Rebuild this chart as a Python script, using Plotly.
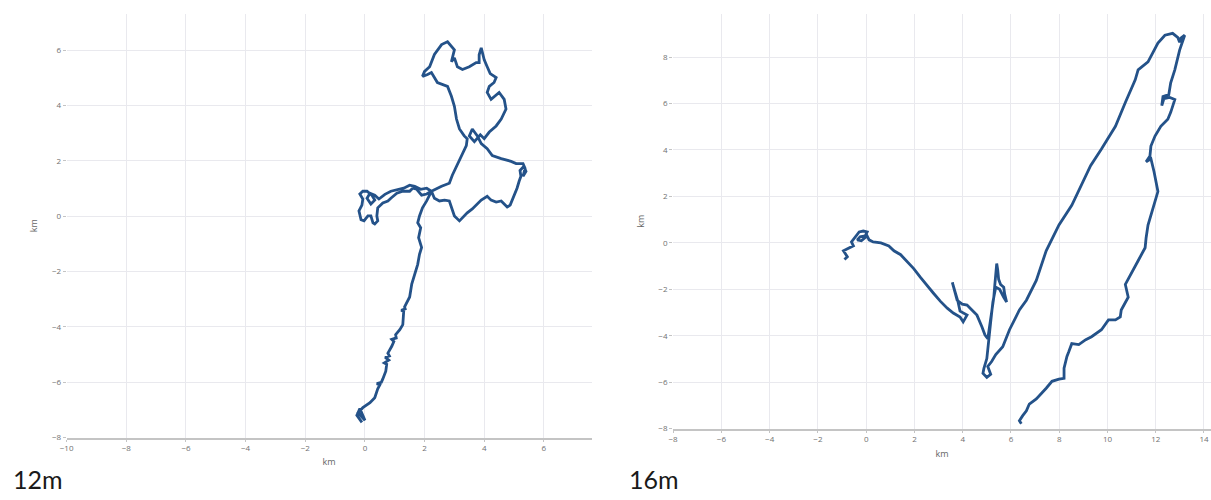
import plotly.graph_objects as go

# ---- 12m track (km) ----
x12 = [-0.10, -0.27, -0.17, 0.00, -0.23, -0.07, 0.17, 0.33, 0.43, 0.50, 0.40, 0.55, 0.60, 0.70, 0.73,
       0.65, 0.80, 0.68, 0.82, 0.77, 0.90, 0.97, 0.90, 1.05,
       1.03, 1.17, 1.27, 1.30, 1.22, 1.35, 1.33, 1.50, 1.57, 1.67, 1.77, 1.83, 1.90, 1.80, 1.87, 1.77, 1.83, 1.93,
       2.07, 2.23,
       2.07, 1.90, 1.73, 1.60, 1.50, 1.27, 1.07, 0.87, 0.77, 0.60, 0.43, 0.40, 0.43, 0.33, 0.27, 0.20,
       0.10, -0.03, -0.13, -0.20, -0.10, -0.07, -0.17, -0.07, 0.07, 0.23, 0.33, 0.20, 0.07, 0.17, 0.33,
       0.47, 0.67, 0.87, 1.10, 1.30, 1.50, 1.67, 1.87, 2.07, 2.23,
       2.33, 2.50, 2.67, 2.83, 2.90, 3.00, 3.17, 3.27, 3.43, 3.60, 3.73, 3.90, 4.10, 4.23, 4.40, 4.57,
       4.67, 4.77, 4.87, 5.00, 5.10, 5.17, 5.23, 5.20, 5.33, 5.40, 5.30, 5.37, 5.30, 5.07,
       4.90, 4.57, 4.27, 4.10, 3.90, 3.77, 3.60, 3.50, 3.67, 3.87, 4.00, 4.17, 4.40, 4.57, 4.73, 4.67,
       4.50, 4.23, 4.10, 4.17, 4.33, 4.40, 4.20, 4.10, 4.00, 3.90, 3.83, 3.83, 3.73, 3.50, 3.27, 3.10,
       3.00, 2.90, 3.00, 2.77, 2.57, 2.33, 2.17, 2.00, 1.93, 2.10, 2.23, 2.43, 2.77, 2.90, 3.00, 3.07,
       3.17, 3.33, 3.43, 3.40, 3.27, 3.17, 3.07, 2.93, 2.83, 2.57, 2.23]
y12 = [-7.45, -7.20, -6.95, -7.38, -7.10, -6.92, -6.74, -6.56, -6.24, -6.10, -6.05, -6.00, -5.88, -5.60, -5.35,
       -5.30, -5.20, -5.10, -5.05, -4.95, -4.70, -4.53, -4.45, -4.40,
       -4.28, -4.10, -3.92, -3.45, -3.40, -3.35, -3.28, -2.92, -2.45, -2.10, -1.74, -1.38, -1.13, -0.78, -0.42, -0.24, 0.01, 0.30,
       0.55, 0.90,
       0.80, 0.76, 0.98, 1.01, 0.90, 0.90, 0.83, 0.65, 0.55, 0.48, 0.30, 0.01, -0.17, -0.28, -0.24, 0.01,
       0.01, -0.17, -0.13, 0.19, 0.40, 0.62, 0.80, 0.90, 0.90, 0.76, 0.58, 0.44, 0.65, 0.83, 0.76,
       0.62, 0.79, 0.90, 0.97, 1.01, 1.12, 1.08, 0.97, 1.01, 0.90,
       0.65, 0.55, 0.58, 0.55, 0.30, 0.01, -0.17, -0.06, 0.12, 0.26, 0.40, 0.58, 0.72, 0.58, 0.51, 0.55,
       0.44, 0.33, 0.40, 0.72, 1.01, 1.26, 1.44, 1.65, 1.80, 1.62, 1.44, 1.73, 1.90, 1.90,
       1.98, 2.08, 2.19, 2.44, 2.62, 2.90, 3.15, 2.90, 2.69, 2.94, 2.80, 3.04, 3.26, 3.51, 3.87, 4.22,
       4.47, 4.22, 4.47, 4.69, 4.83, 5.01, 5.15, 5.40, 5.65, 6.08, 5.83, 5.55, 5.55, 5.40, 5.30, 5.40,
       5.72, 5.58, 6.01, 6.30, 6.20, 5.84, 5.40, 5.23, 5.05, 5.12, 5.19, 4.83, 4.69, 4.33, 3.97, 3.51,
       3.15, 2.90, 2.80, 2.55, 2.26, 2.01, 1.80, 1.48, 1.19, 1.08, 0.90]

# ---- 16m track (km) ----
x16 = [-0.90, -0.78, -0.94, -0.70, -0.53, -0.61, -0.49, -0.37, -0.29, -0.12, 0.04, -0.04, -0.25, -0.37,
       -0.20, 0.04, 0.12, 0.29, 0.61, 0.94, 1.15, 1.43, 1.72, 1.97, 2.25, 2.54, 2.79, 3.07, 3.36, 3.61,
       3.89, 4.02, 4.18, 3.89, 3.81, 3.69, 3.57, 3.65, 3.77, 3.98, 4.18, 4.34, 4.59, 4.80, 4.92, 5.04,
       5.12, 5.20, 5.29, 5.33, 5.37, 5.41, 5.45, 5.49, 5.57, 5.70, 5.74, 5.82, 5.70, 5.53, 5.37, 5.25,
       5.16, 5.08, 5.00, 4.88, 4.84, 5.00, 5.16, 5.04, 5.20, 5.37, 5.66, 5.94, 6.35, 6.64, 7.05, 7.46,
       7.99, 8.52, 9.30, 9.75, 10.33, 10.74, 11.15, 11.27, 11.68, 12.09, 12.38, 12.70, 12.91, 12.99,
       13.03, 13.20, 12.99, 12.79, 12.62, 12.54, 12.30, 12.25, 12.34, 12.58, 12.79, 12.62, 12.50, 12.21,
       11.97, 11.80, 11.76, 11.60, 11.80, 11.93, 12.01, 12.09, 11.97, 11.80, 11.68, 11.60, 11.56, 11.27,
       10.98, 10.74, 10.86, 10.57, 10.53, 10.33, 10.04, 9.75, 9.34, 9.10, 8.81, 8.52, 8.40, 8.32, 8.20,
       8.20, 7.99, 7.70, 7.46, 7.05, 6.76, 6.64, 6.48, 6.35, 6.43]
y16 = [-0.72, -0.60, -0.34, -0.21, -0.13, 0.04, 0.21, 0.38, 0.47, 0.51, 0.47, 0.30, 0.26, 0.13,
       0.09, 0.30, 0.13, 0.04, 0.00, -0.13, -0.34, -0.51, -0.85, -1.11, -1.49, -1.83, -2.17, -2.51, -2.81, -3.02,
       -3.19, -3.40, -3.11, -2.94, -2.55, -2.13, -1.70, -2.04, -2.47, -2.64, -2.68, -2.85, -3.11, -3.62, -3.96, -4.13,
       -3.62, -2.98, -2.34, -1.83, -1.36, -0.89, -1.15, -1.57, -1.79, -1.91, -2.21, -2.55, -2.34, -2.00, -1.91, -2.55,
       -3.40, -4.26, -4.98, -5.40, -5.62, -5.79, -5.66, -5.32, -5.11, -4.81, -4.47, -3.74, -2.89, -2.47, -1.62, -0.34,
       0.77, 1.62, 3.32, 4.04, 5.02, 6.04, 7.02, 7.45, 7.79, 8.60, 8.94, 9.02, 8.85, 8.64,
       8.81, 8.94, 8.30, 7.45, 6.89, 6.38, 6.30, 5.91, 6.21, 6.26, 6.17, 5.62, 5.32, 5.02,
       4.60, 4.17, 3.74, 3.49, 3.62, 3.06, 2.64, 2.21, 1.79, 1.19, 0.77, 0.21, -0.21, -0.77,
       -1.36, -1.79, -2.34, -2.89, -3.19, -3.32, -3.32, -3.74, -4.04, -4.17, -4.38, -4.34, -4.68, -4.89, -5.40,
       -5.83, -5.87, -5.96, -6.26, -6.72, -6.94, -7.23, -7.45, -7.66, -7.79]

panel_labels = ["12m", "16m"]
axis_title = "km"

LINE = "#245289"
GRID = "#e9e9ee"
TICKFONT = dict(family="Open Sans, sans-serif", size=8, color="#707070")
TITLEFONT = dict(family="Open Sans, sans-serif", size=9, color="#666666")

fig = go.Figure()
fig.add_trace(go.Scatter(x=x12, y=y12, mode="lines", xaxis="x", yaxis="y",
                         line=dict(color=LINE, width=2.8), showlegend=False))
fig.add_trace(go.Scatter(x=x16, y=y16, mode="lines", xaxis="x2", yaxis="y2",
                         line=dict(color=LINE, width=2.8), showlegend=False))

W, H = 1211, 500
def xa(l, r):
    return [l / W, r / W]
def ya(top, bot):
    return [1 - bot / H, 1 - top / H]

common_x = dict(dtick=2, showgrid=True, gridcolor=GRID, gridwidth=1, zeroline=False,
                showline=True, linecolor="#c4c4c4", linewidth=2, ticks="outside",
                ticklen=2, tickcolor="#c4c4c4", tickfont=TICKFONT,
                title=dict(text=axis_title, font=TITLEFONT, standoff=7))
common_y = dict(dtick=2, showgrid=True, gridcolor=GRID, gridwidth=1, zeroline=False,
                showline=False, ticks="outside", ticklen=3, tickcolor="#c4c4c4",
                tickfont=TICKFONT, title=dict(text=axis_title, font=TITLEFONT, standoff=12))

fig.update_layout(
    width=W, height=H,
    margin=dict(l=0, r=0, t=0, b=0),
    paper_bgcolor="white", plot_bgcolor="white",
    xaxis=dict(domain=xa(60, 588), range=[-10, 7.6], anchor="y", **common_x),
    yaxis=dict(domain=ya(14, 442), range=[-8, 7.31], anchor="x", **common_y),
    xaxis2=dict(domain=xa(670, 1211), range=[-8, 14.29], anchor="y2", **common_x),
    yaxis2=dict(domain=ya(14, 433), range=[-8, 9.86], anchor="x2", **common_y),
    annotations=[
        dict(text=panel_labels[0], xref="paper", yref="paper", x=4 / W, y=1 - 484 / H,
             xanchor="left", yanchor="middle", showarrow=False,
             font=dict(family="Lato, Noto Sans, sans-serif", size=25, color="#1a1a1a")),
        dict(text=panel_labels[1], xref="paper", yref="paper", x=624 / W, y=1 - 484 / H,
             xanchor="left", yanchor="middle", showarrow=False,
             font=dict(family="Lato, Noto Sans, sans-serif", size=25, color="#1a1a1a")),
    ],
)

fig.write_html("out.html")
